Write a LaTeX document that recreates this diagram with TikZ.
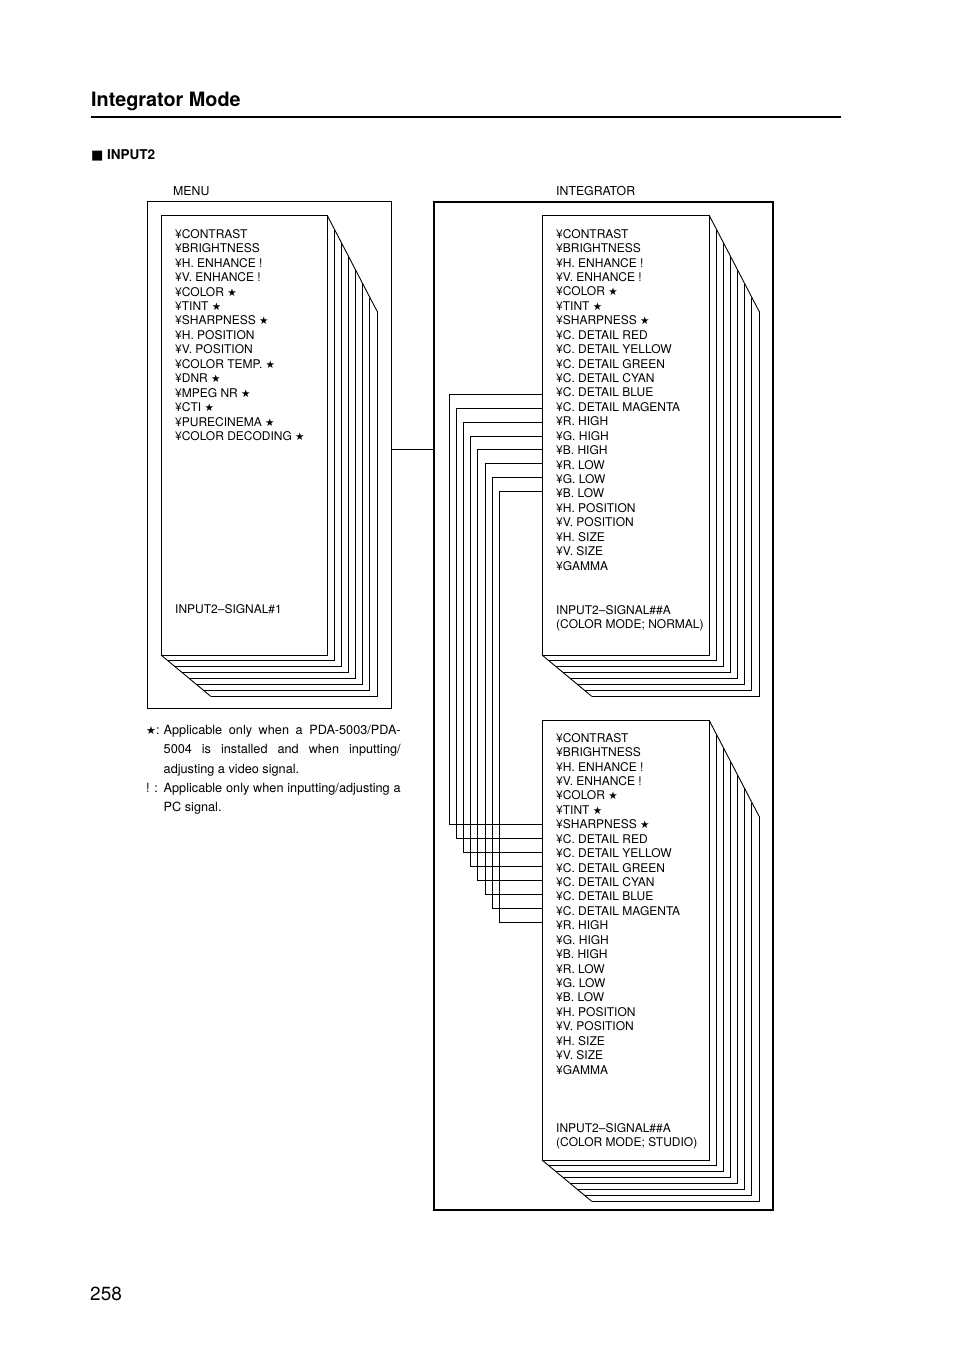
\documentclass[tikz,border=0pt]{standalone}
\usepackage{fontspec}
\setmainfont{TeX Gyre Heros}
\newfontfamily\symf{DejaVu Sans}
\newcommand\mystar{{\symf\fontsize{10.5}{10}\selectfont ★}}
\newcommand\mysq{{\symf\fontsize{13}{13}\selectfont ■}}
\newcommand\pagestack[4]{%
  \draw[pageline] (#1,#2) rectangle (#3,#4);
  \foreach \k in {1,...,7}{%
    \draw[pageline] (#3+7.15*\k,#2+13.75*\k) -- (#3+7.15*\k,#4+5.9*\k) -- (#1+7.1*\k,#4+5.9*\k);
  }
  \draw[pageline] (#3,#2) -- (#3+50.05,#2+96.25);
  \draw[pageline] (#1,#4) -- (#1+49.7,#4+41.3);
}
\begin{document}
\begin{tikzpicture}[x=1pt,y=-1pt,
  pageline/.style={line width=0.9pt},
  item/.style={anchor=base west,inner sep=0pt,font=\fontsize{12}{14}\selectfont},
  note/.style={anchor=base west,inner sep=0pt,font=\fontsize{12.7}{14}\selectfont},
  lbl/.style={anchor=base west,inner sep=0pt,font=\fontsize{12.3}{14}\selectfont},
  conn/.style={line width=0.9pt}]
\useasboundingbox (0,0) rectangle (954,1351);

% header
\node[anchor=base west,inner sep=0pt,font=\fontsize{19.8}{22}\selectfont\bfseries] (title) at (91,106.5) {Integrator Mode};
\draw[line width=2pt] (91,117) -- (841,117);
\node[anchor=base west,inner sep=0pt,font=\fontsize{13.5}{16}\selectfont\bfseries] (inp) at (91,160) {\mysq\ INPUT2};

% labels
\node[lbl] (menulbl) at (173,196) {MENU};
\node[lbl] (intlbl) at (556,196) {INTEGRATOR};

% outer boxes
\draw[line width=1pt] (147,202) rectangle (391,708);
\draw[line width=1.9pt] (434,202) rectangle (773,1210);

% page stacks
\pagestack{161}{215}{327}{655}
\pagestack{542}{215}{709}{655}
\pagestack{542}{720}{709}{1160}

% menu list
\foreach \t [count=\i from 0] in {¥CONTRAST,¥BRIGHTNESS,¥H. ENHANCE !,¥V. ENHANCE !,¥COLOR \mystar,¥TINT \mystar,¥SHARPNESS \mystar,¥H. POSITION,¥V. POSITION,¥COLOR TEMP. \mystar,¥DNR \mystar,¥MPEG NR \mystar,¥CTI \mystar,¥PURECINEMA \mystar,¥COLOR DECODING \mystar}
  \node[item] (m\i) at (175,238.2+14.45*\i) {\t};
\node[item] (msig) at (175,613) {INPUT2–SIGNAL\#1};

% integrator lists
\foreach \t [count=\i from 0] in {¥CONTRAST,¥BRIGHTNESS,¥H. ENHANCE !,¥V. ENHANCE !,¥COLOR \mystar,¥TINT \mystar,¥SHARPNESS \mystar,¥C. DETAIL RED,¥C. DETAIL YELLOW,¥C. DETAIL GREEN,¥C. DETAIL CYAN,¥C. DETAIL BLUE,¥C. DETAIL MAGENTA,¥R. HIGH,¥G. HIGH,¥B. HIGH,¥R. LOW,¥G. LOW,¥B. LOW,¥H. POSITION,¥V. POSITION,¥H. SIZE,¥V. SIZE,¥GAMMA}{
  \node[item] (a\i) at (556,238.2+14.43*\i) {\t};
  \node[item] (b\i) at (556,742.2+14.43*\i) {\t};
}
\node[item] (asig1) at (556,614) {INPUT2–SIGNAL\#\#A};
\node[item] (asig2) at (556,628.4) {(COLOR MODE; NORMAL)};
\node[item] (bsig1) at (556,1132) {INPUT2–SIGNAL\#\#A};
\node[item] (bsig2) at (556,1146.4) {(COLOR MODE; STUDIO)};

% connector menu -> integrator
\coordinate (menuR) at (391,449);
\coordinate (intL) at (434,449);
\draw[conn] (menuR) -- (intL);

% connectors between the two integrator stacks
\foreach \k in {0,...,7}{
  \coordinate (u\k) at (542,394.3+13.9*\k);
  \coordinate (l\k) at (542,824.3+14.0*\k);
  \pgfmathsetmacro\xx{92.7-7.14*\k}
  \draw[conn] (u\k) -- ++(-\xx,0) |- (l\k);
}

% notes
\node[note] (n1s) at (146,734.5) {{\symf\fontsize{11}{11}\selectfont ★}:};
\node[note] (n1a) at (163.5,734.5) {\makebox[237pt][s]{Applicable only when a PDA-5003/PDA-}};
\node[note] (n1b) at (163.5,753.8) {\makebox[237pt][s]{5004 is installed and when inputting/}};
\node[note] (n1c) at (163.5,773.1) {adjusting a video signal.};
\node[note] (n2s) at (146,792.4) {! :};
\node[note] (n2a) at (163.5,792.4) {\makebox[237pt][s]{Applicable only when inputting/adjusting a}};
\node[note] (n2b) at (163.5,811.7) {PC signal.};

% page number
\node[anchor=base west,inner sep=0pt,font=\fontsize{19}{22}\selectfont] (pg) at (90,1300.8) {258};
\end{tikzpicture}
\end{document}
